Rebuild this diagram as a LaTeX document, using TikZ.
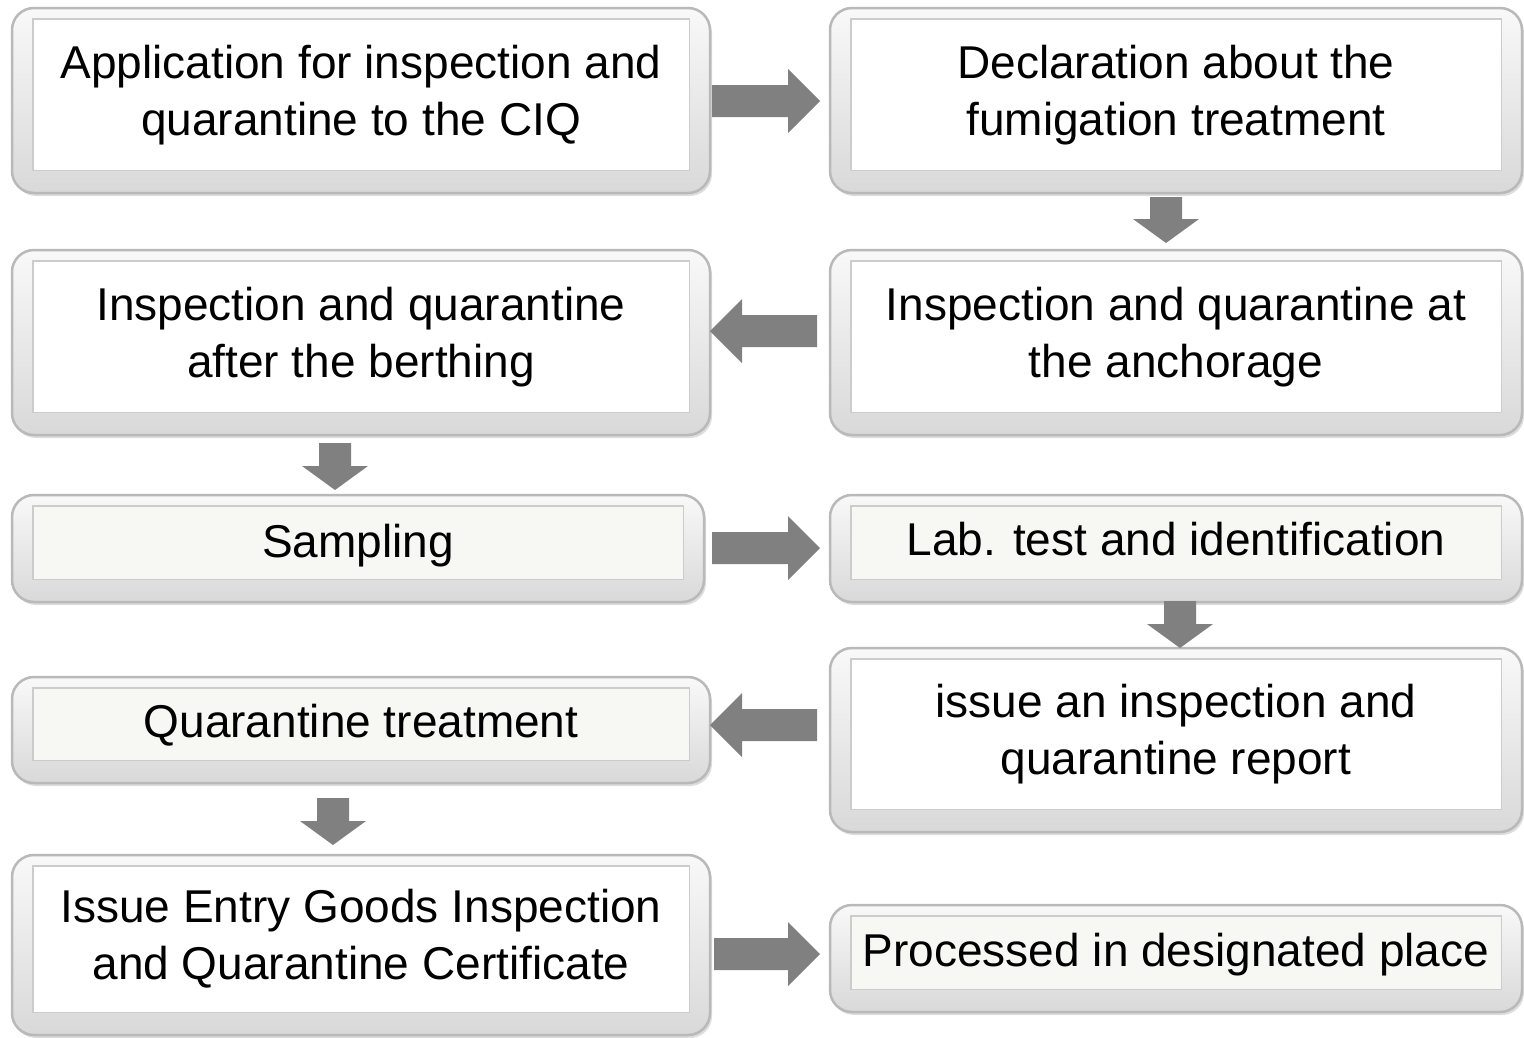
\documentclass[tikz,border=0pt]{standalone}
\usepackage{fontspec}
\setmainfont{Liberation Sans}
\usetikzlibrary{calc,shadows}
\tikzset{
  frame/.style={draw=gray!55, line width=2.5pt, rounded corners=22pt, fill=gray!12,
    top color=gray!5, bottom color=gray!30, inner sep=0pt,
    drop shadow={shadow xshift=2pt, shadow yshift=-3pt, fill=gray!45, opacity=0.6}},
  inner/.style={draw=gray!40, line width=1.5pt, fill=white},
  innerlt/.style={draw=gray!40, line width=1.5pt, fill={rgb,255:red,247;green,248;blue,243}},
  lbl/.style={align=center, font=\fontsize{46}{57}\selectfont, text=black, inner sep=0pt},
  arr/.style={fill={rgb,255:red,128;green,128;blue,128}, draw=none}
}
% box: name, x1, y1, x2, y2, innerstyle, text shift up, text
\newcommand\mybox[8]{%
  \node[frame, minimum width=#4pt-#2pt, minimum height=#5pt-#3pt] (#1) at ({(#2+#4)/2},{(#3+#5)/2}) {};
  \fill[#6] ($(#1.north west)+(22pt,-12pt)$) rectangle ($(#1.south east)+(-22pt,24pt)$);
  \node[lbl] (#1t) at ($(#1.center)+(0,#7pt)$) {#8};
}
% right arrow from x1 to x2 centred at y
\newcommand\arrR[3]{\fill[arr] (#1,#3-16) -- (#2-32,#3-16) -- (#2-32,#3-32) -- (#2,#3) -- (#2-32,#3+32) -- (#2-32,#3+16) -- (#1,#3+16) -- cycle;}
\newcommand\arrL[3]{\fill[arr] (#1,#3-16) -- (#2+32,#3-16) -- (#2+32,#3-32) -- (#2,#3) -- (#2+32,#3+32) -- (#2+32,#3+16) -- (#1,#3+16) -- cycle;}
\newcommand\arrD[3]{\fill[arr] (#1-16,#2) -- (#1-16,#3-24) -- (#1-33,#3-24) -- (#1,#3) -- (#1+33,#3-24) -- (#1+16,#3-24) -- (#1+16,#2) -- cycle;}
\begin{document}
\begin{tikzpicture}[x=1pt,y=-1pt]
\useasboundingbox (0,0) rectangle (1524,1037);
\mybox{b1}{12}{8}{710}{193}{inner}{5}{Application for inspection and\strut\\quarantine to the CIQ\strut}
\mybox{b2}{830}{8}{1522}{193}{inner}{5}{Declaration about the\strut\\fumigation treatment\strut}
\mybox{b3}{12}{250}{710}{435}{inner}{5}{Inspection and quarantine\strut\\after the berthing\strut}
\mybox{b4}{830}{250}{1522}{435}{inner}{5}{Inspection and quarantine at\strut\\the anchorage\strut}
\mybox{b5}{12}{495}{704}{602}{innerlt}{2}{Sampling\strut}
\mybox{b6}{830}{495}{1522}{602}{innerlt}{4}{Lab. test and identification\strut}
\mybox{b7}{830}{648}{1522}{832}{inner}{5}{issue an inspection and\strut\\quarantine report\strut}
\mybox{b8}{12}{677}{710}{783}{innerlt}{4}{Quarantine treatment\strut}
\mybox{b9}{12}{855}{710}{1035}{inner}{5}{Issue Entry Goods Inspection\strut\\and Quarantine Certificate\strut}
\mybox{b10}{830}{905}{1522}{1012}{innerlt}{3}{Processed in designated place\strut}
\arrR{712}{820}{101}
\arrD{1166}{197}{243}
\arrL{817}{710}{331}
\arrD{335}{443}{490}
\arrR{712}{820}{548}
\arrD{1180}{601}{648}
\arrL{817}{710}{725}
\arrD{333}{798}{845}
\arrR{714}{820}{954}
\end{tikzpicture}
\end{document}
